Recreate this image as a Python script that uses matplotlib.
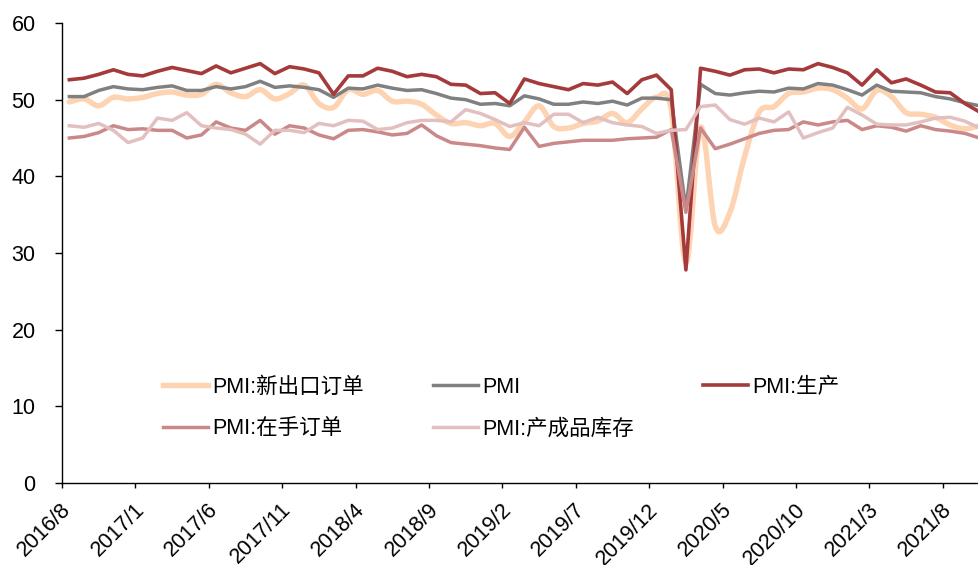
import matplotlib
matplotlib.use("Agg")
import matplotlib.pyplot as plt
from matplotlib.path import Path
from matplotlib.patches import PathPatch
from matplotlib.lines import Line2D
from matplotlib.transforms import ScaledTranslation

plt.rcParams['font.family'] = ['Liberation Sans', 'Noto Sans CJK SC', 'DejaVu Sans']

# ---- data: monthly, 2016/8 .. 2021/10 ----
months = []
y, m = 2016, 8
for _ in range(63):
    months.append(f"{y}/{m}")
    m += 1
    if m > 12:
        m = 1
        y += 1

pmi = [50.4, 50.4, 51.2, 51.7, 51.4,
       51.3, 51.6, 51.8, 51.2, 51.2, 51.7, 51.4, 51.7, 52.4, 51.6, 51.8, 51.6,
       51.3, 50.3, 51.5, 51.4, 51.9, 51.5, 51.2, 51.3, 50.8, 50.2, 50.0, 49.4,
       49.5, 49.2, 50.5, 50.1, 49.4, 49.4, 49.7, 49.5, 49.8, 49.3, 50.2, 50.2,
       50.0, 35.7, 52.0, 50.8, 50.6, 50.9, 51.1, 51.0, 51.5, 51.4, 52.1, 51.9,
       51.3, 50.6, 51.9, 51.1, 51.0, 50.9, 50.4, 50.1, 49.6, 49.2]

production = [52.6, 52.8, 53.3, 53.9, 53.3,
              53.1, 53.7, 54.2, 53.8, 53.4, 54.4, 53.5, 54.1, 54.7, 53.4, 54.3, 54.0,
              53.5, 50.7, 53.1, 53.1, 54.1, 53.7, 53.0, 53.3, 53.0, 52.0, 51.9, 50.8,
              50.9, 49.5, 52.7, 52.1, 51.7, 51.3, 52.1, 51.9, 52.3, 50.8, 52.6, 53.2,
              51.3, 27.8, 54.1, 53.7, 53.2, 53.9, 54.0, 53.5, 54.0, 53.9, 54.7, 54.2,
              53.5, 51.9, 53.9, 52.2, 52.7, 51.9, 51.0, 50.9, 49.5, 48.4]

new_export = [49.7, 50.1, 49.2, 50.3, 50.1,
              50.3, 50.8, 51.0, 50.6, 50.7, 52.0, 50.9, 50.4, 51.3, 50.1, 50.8, 51.9,
              49.5, 49.0, 51.3, 50.7, 51.2, 49.8, 49.8, 49.4, 48.0, 46.9, 47.0, 46.6,
              46.9, 45.2, 47.1, 49.2, 46.5, 46.3, 46.9, 47.2, 48.2, 47.0, 48.8, 50.3,
              48.7, 28.7, 46.4, 33.5, 35.3, 42.6, 48.4, 49.1, 50.8, 51.0, 51.5, 51.3,
              50.2, 48.8, 51.2, 50.4, 48.3, 48.1, 47.7, 46.7, 46.2, 46.6]

backlog = [45.0, 45.2, 45.7, 46.6, 46.1,
           46.2, 46.0, 46.0, 45.0, 45.4, 47.1, 46.3, 46.0, 47.3, 45.5, 46.6, 46.3,
           45.4, 44.9, 46.0, 46.1, 45.8, 45.4, 45.6, 46.7, 45.3, 44.4, 44.2, 44.0,
           43.7, 43.5, 46.4, 43.9, 44.3, 44.5, 44.7, 44.7, 44.7, 44.9, 45.0, 45.1,
           46.1, 35.3, 46.3, 43.6, 44.2, 44.9, 45.6, 46.0, 46.1, 47.1, 46.7, 47.1,
           47.3, 46.1, 46.6, 46.4, 45.9, 46.6, 46.1, 45.9, 45.6, 45.0]

finished_inv = [46.6, 46.4, 46.9, 46.0, 44.4,
                45.0, 47.6, 47.3, 48.3, 46.6, 46.3, 46.1, 45.5, 44.2, 46.0, 46.0, 45.7,
                46.9, 46.6, 47.3, 47.2, 46.1, 46.3, 47.0, 47.3, 47.3, 47.1, 48.7, 48.2,
                47.4, 46.5, 47.0, 46.6, 48.1, 48.1, 47.0, 47.7, 47.0, 46.7, 46.5, 45.6,
                46.0, 46.1, 49.1, 49.3, 47.4, 46.8, 47.6, 47.1, 48.4, 45.0, 45.7, 46.3,
                49.0, 48.0, 46.8, 46.7, 46.7, 47.1, 47.6, 47.7, 47.2, 46.3]

labels = ["PMI:新出口订单", "PMI", "PMI:生产", "PMI:在手订单", "PMI:产成品库存"]
colors = ["#FDD3B2", "#808080", "#A43A3B", "#CB8888", "#E3C0C0"]
widths = [3.9, 2.5, 2.6, 2.5, 2.5]

# ---- figure ----
W, H = 979, 565
fig = plt.figure(figsize=(W / 100, H / 100), dpi=100)
x0_px, top_px, bot_px = 62, 23, 483
step_px = 14.68
ax = fig.add_axes([x0_px / W, 1 - bot_px / H, 63 * step_px / W, (bot_px - top_px) / H])

xs = list(range(len(months)))


def smooth_path(x, y):
    verts = [(x[0], y[0])]
    codes = [Path.MOVETO]
    n = len(x)
    for i in range(n - 1):
        xa, ya = (x[i - 1], y[i - 1]) if i > 0 else (x[i], y[i])
        xd, yd = (x[i + 2], y[i + 2]) if i + 2 < n else (x[i + 1], y[i + 1])
        c1 = (x[i] + (x[i + 1] - xa) / 6, y[i] + (y[i + 1] - ya) / 6)
        c2 = (x[i + 1] - (xd - x[i]) / 6, y[i + 1] - (yd - y[i]) / 6)
        verts += [c1, c2, (x[i + 1], y[i + 1])]
        codes += [Path.CURVE4] * 3
    return Path(verts, codes)


# smoothed new export orders line
ax.add_patch(PathPatch(smooth_path(xs, new_export), fill=False, edgecolor=colors[0],
                       lw=widths[0], capstyle='round', joinstyle='round', zorder=2))
ax.plot(xs, pmi, color=colors[1], lw=widths[1], zorder=3, solid_joinstyle='round')
ax.plot(xs, production, color=colors[2], lw=widths[2], zorder=4, solid_joinstyle='round')
ax.plot(xs, backlog, color=colors[3], lw=widths[3], zorder=5, solid_joinstyle='round')
ax.plot(xs, finished_inv, color=colors[4], lw=widths[4], zorder=6, solid_joinstyle='round')

ax.set_xlim(-0.5, len(months) - 0.5)
ax.set_ylim(0, 60)
ax.set_yticks(range(0, 61, 10))
tick_pos = [i - 0.5 for i in range(0, len(months), 5)]
ax.set_xticks(tick_pos)
ax.set_xticklabels([months[i] for i in range(0, len(months), 5)],
                   rotation=45, ha='right', va='center', rotation_mode='anchor')

for s in ['top', 'right']:
    ax.spines[s].set_visible(False)
for s in ['left', 'bottom']:
    ax.spines[s].set_color('black')
    ax.spines[s].set_linewidth(1.0)

ax.tick_params(axis='y', length=5, width=1.0, pad=14, labelsize=15.5, direction='out')
ax.tick_params(axis='x', length=3.6, width=1.0, pad=13.5, labelsize=15.5, direction='out')
for lab in ax.get_xticklabels():
    lab.set_transform(lab.get_transform() + ScaledTranslation(6 / 100, 0, fig.dpi_scale_trans))

# legend laid out row-wise (matplotlib fills columns first)
handles = [Line2D([], [], color=c, lw=w) for c, w in zip(colors, widths)]
order = [0, 3, 1, 4, 2]
leg = fig.legend([handles[i] for i in order], [labels[i] for i in order], ncol=3,
                 loc='upper left', bbox_to_anchor=(163 / W, 1 - 377 / H), frameon=False,
                 fontsize=15.5, handlelength=2.1, handletextpad=0.2,
                 columnspacing=3.2, labelspacing=0.95, borderpad=0, borderaxespad=0)

fig.savefig("out.png", dpi=100)
